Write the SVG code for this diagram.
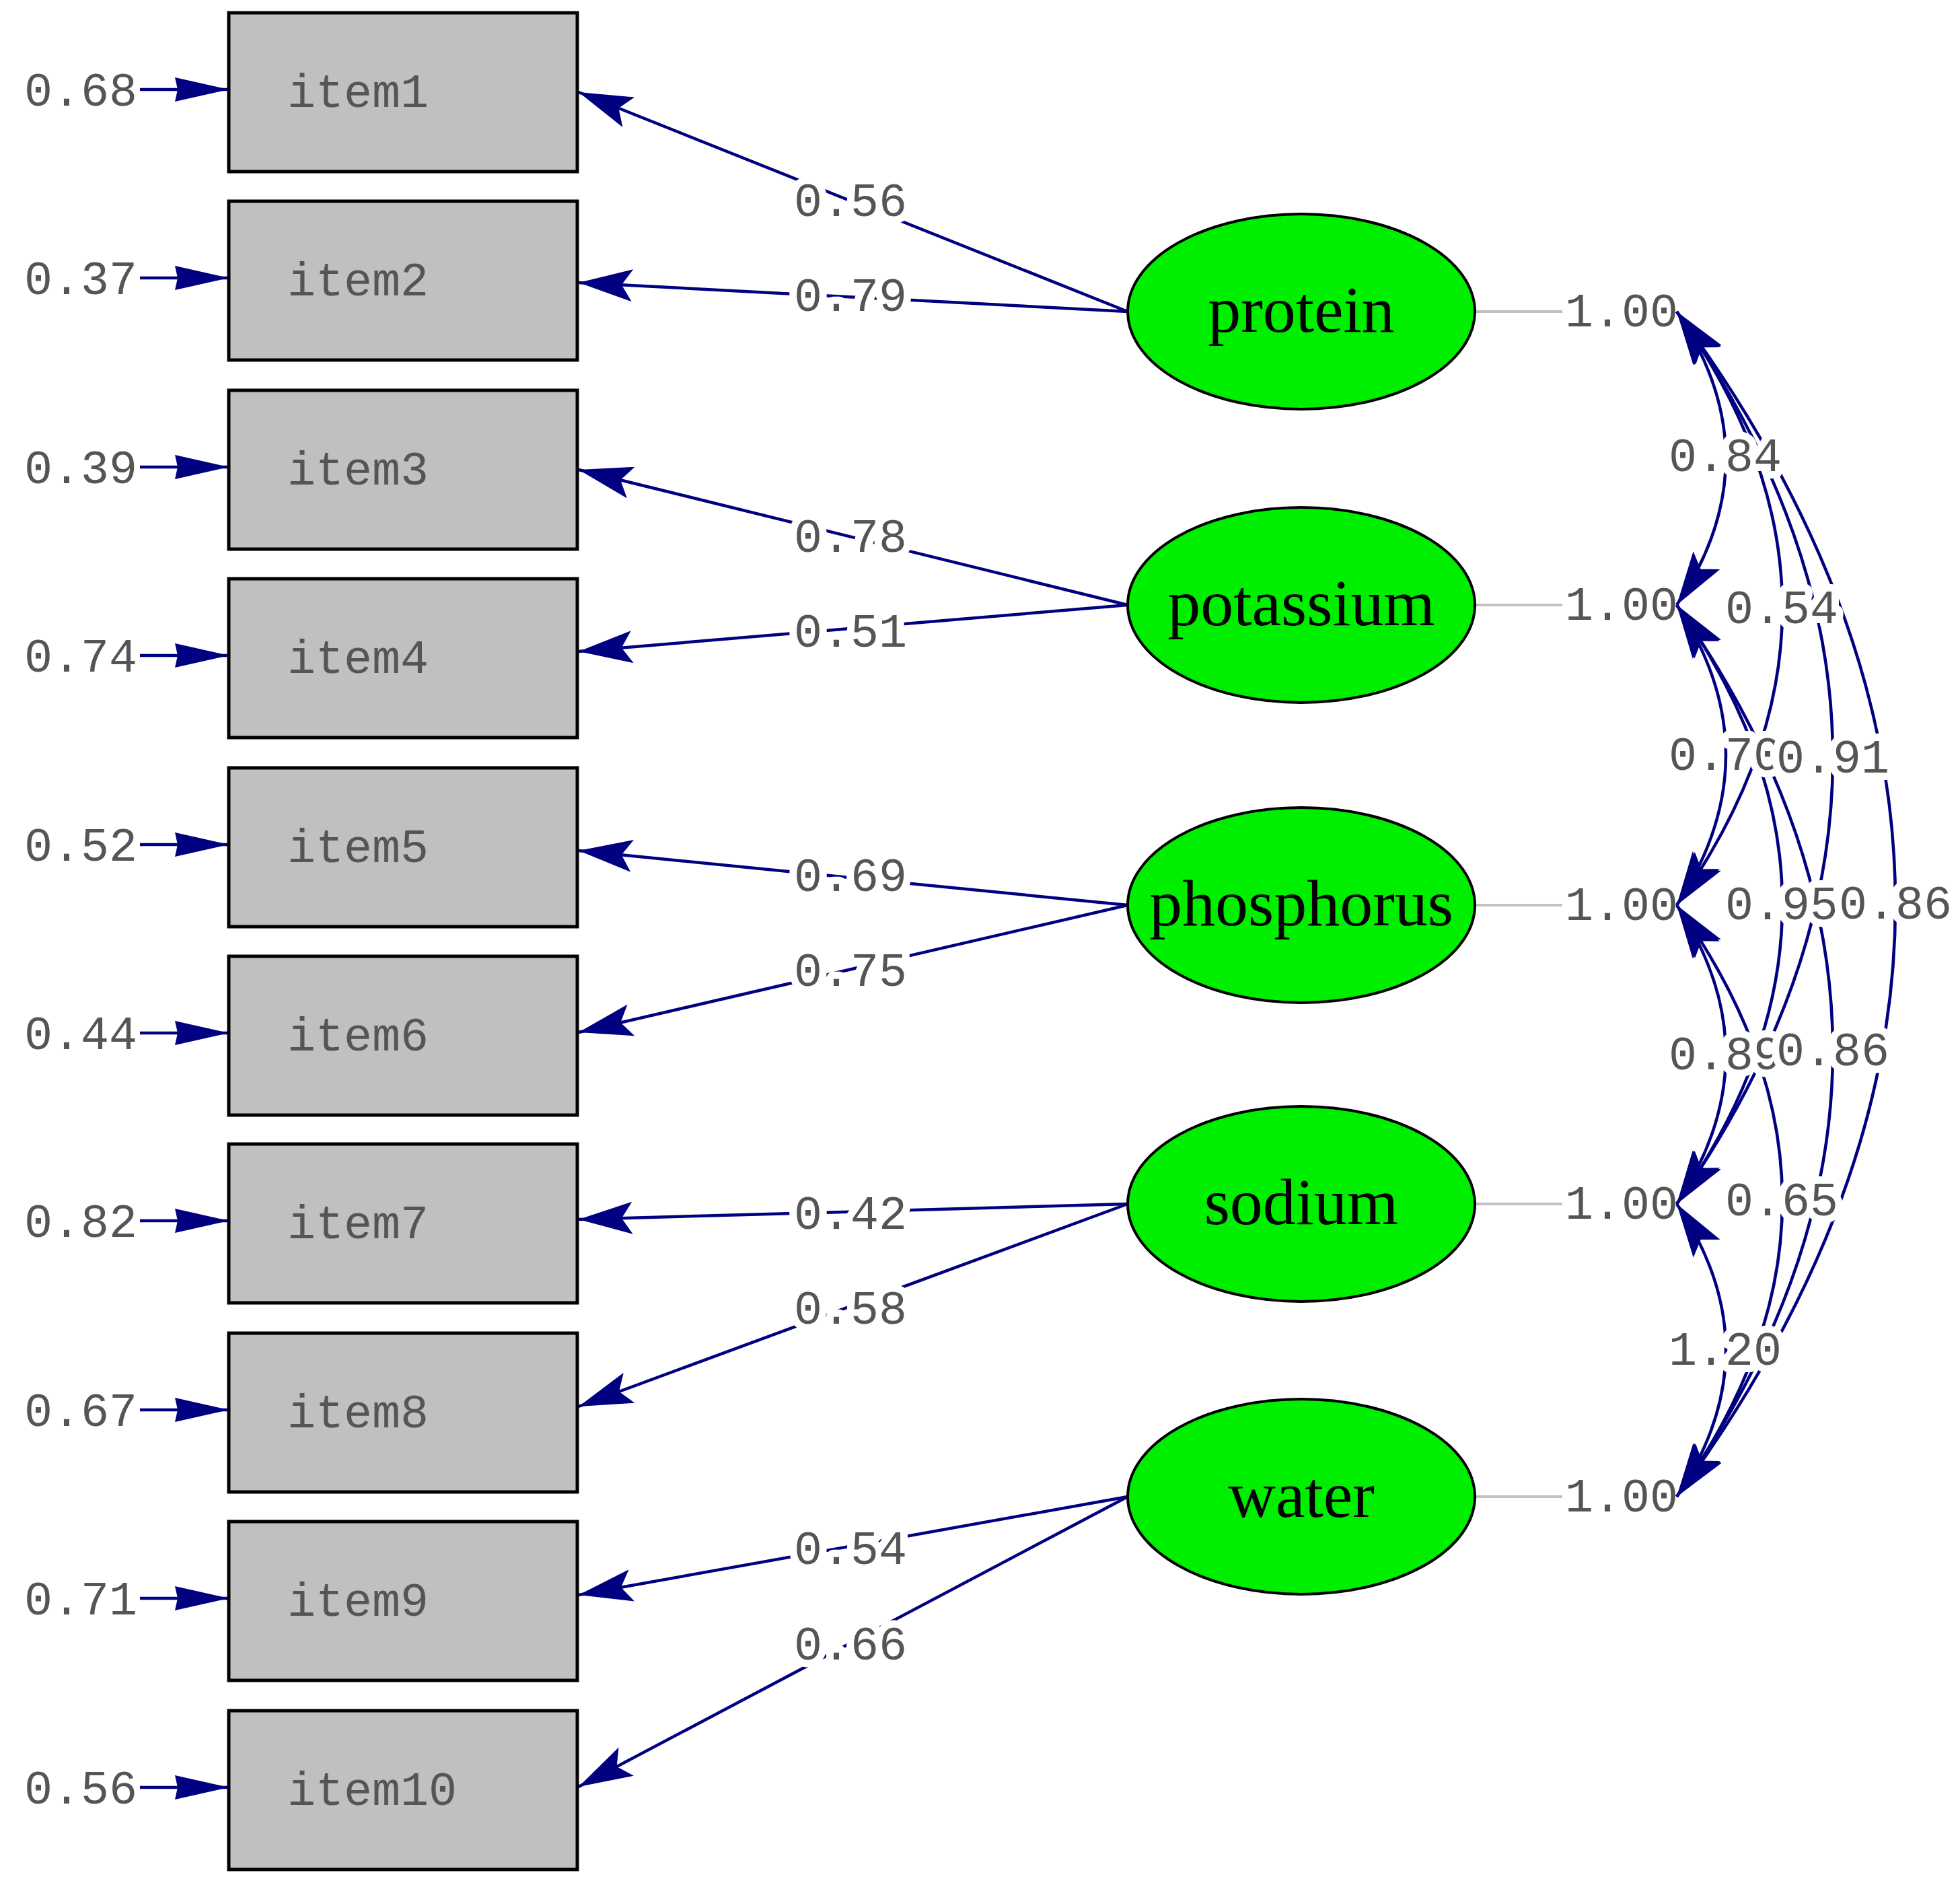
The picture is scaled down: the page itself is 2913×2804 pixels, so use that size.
<svg xmlns="http://www.w3.org/2000/svg" width="2913" height="2804" viewBox="0 0 2913 2804">
<style>
.box{fill:#c0c0c0;stroke:#000;stroke-width:5}
.ell{fill:#00ee00;stroke:#000;stroke-width:4}
.t{font-family:"Liberation Mono",monospace;font-size:70px;fill:#555}
.f{font-family:"Liberation Serif",serif;font-size:98px;fill:#000;text-anchor:middle}
.lab{paint-order:stroke;stroke:#fff;stroke-width:22px;stroke-linejoin:round;text-anchor:middle}
.ln{stroke:#000080;stroke-width:4.5;fill:none}
.gr{stroke:#c0c0c0;stroke-width:4}
</style>
<defs>
<marker id="ah" markerUnits="userSpaceOnUse" markerWidth="80" markerHeight="48" viewBox="0 0 80 48" refX="80" refY="24" orient="auto-start-reverse">
<path d="M80,24 L0,0 L16,24 L0,48 Z" fill="#000080"/>
</marker>
<marker id="ae" markerUnits="userSpaceOnUse" markerWidth="80" markerHeight="40" viewBox="0 0 80 40" refX="80" refY="20" orient="auto">
<path d="M80,20 L0,2 L4,20 L0,38 Z" fill="#000080"/>
</marker>
</defs>
<g id="connectors">
<line class="gr" x1="2192" y1="463" x2="2322" y2="463"/>
<line class="gr" x1="2192" y1="899" x2="2322" y2="899"/>
<line class="gr" x1="2192" y1="1345" x2="2322" y2="1345"/>
<line class="gr" x1="2192" y1="1789" x2="2322" y2="1789"/>
<line class="gr" x1="2192" y1="2224" x2="2322" y2="2224"/>
<g marker-end="url(#ae)">
<line class="ln" x1="208" y1="133" x2="340" y2="133"/>
<line class="ln" x1="208" y1="413" x2="340" y2="413"/>
<line class="ln" x1="208" y1="694" x2="340" y2="694"/>
<line class="ln" x1="208" y1="974" x2="340" y2="974"/>
<line class="ln" x1="208" y1="1255" x2="340" y2="1255"/>
<line class="ln" x1="208" y1="1535" x2="340" y2="1535"/>
<line class="ln" x1="208" y1="1814" x2="340" y2="1814"/>
<line class="ln" x1="208" y1="2095" x2="340" y2="2095"/>
<line class="ln" x1="208" y1="2375" x2="340" y2="2375"/>
<line class="ln" x1="208" y1="2656" x2="340" y2="2656"/>
</g>
<g marker-end="url(#ah)">
<line class="ln" x1="1676" y1="463" x2="860" y2="137"/>
<line class="ln" x1="1676" y1="463" x2="860" y2="420"/>
<line class="ln" x1="1676" y1="899" x2="860" y2="698"/>
<line class="ln" x1="1676" y1="899" x2="860" y2="968"/>
<line class="ln" x1="1676" y1="1345" x2="860" y2="1264"/>
<line class="ln" x1="1676" y1="1345" x2="860" y2="1534"/>
<line class="ln" x1="1676" y1="1789" x2="860" y2="1812"/>
<line class="ln" x1="1676" y1="1789" x2="860" y2="2090"/>
<line class="ln" x1="1676" y1="2224" x2="860" y2="2370"/>
<line class="ln" x1="1676" y1="2224" x2="860" y2="2655"/>
</g>
<g marker-start="url(#ah)" marker-end="url(#ah)">
<path class="ln" d="M2492,463 Q2638,681 2492,899"/>
<path class="ln" d="M2492,899 Q2638,1122 2492,1345"/>
<path class="ln" d="M2492,1345 Q2638,1567 2492,1789"/>
<path class="ln" d="M2492,1789 Q2638,2006 2492,2224"/>
<path class="ln" d="M2492,463 Q2806,904 2492,1345"/>
<path class="ln" d="M2492,899 Q2806,1344 2492,1789"/>
<path class="ln" d="M2492,1345 Q2806,1784 2492,2224"/>
<path class="ln" d="M2492,463 Q2956,1126 2492,1789"/>
<path class="ln" d="M2492,899 Q2956,1561 2492,2224"/>
<path class="ln" d="M2492,463 Q3142,1343 2492,2224"/>
</g>
<g class="t lab">
<text x="1264" y="321">0.56</text>
<text x="1264" y="462">0.79</text>
<text x="1264" y="820">0.78</text>
<text x="1264" y="961">0.51</text>
<text x="1264" y="1324">0.69</text>
<text x="1264" y="1465">0.75</text>
<text x="1264" y="1826">0.42</text>
<text x="1264" y="1967">0.58</text>
<text x="1264" y="2324">0.54</text>
<text x="1264" y="2466">0.66</text>
<text x="2564" y="700">0.84</text>
<text x="2564" y="1144">0.70</text>
<text x="2564" y="1589">0.89</text>
<text x="2564" y="2028">1.20</text>
<text x="2648" y="926">0.54</text>
<text x="2648" y="1366">0.95</text>
<text x="2648" y="1806">0.65</text>
<text x="2724" y="1148">0.91</text>
<text x="2724" y="1583">0.86</text>
<text x="2817" y="1365">0.86</text>
</g>
<g class="t" text-anchor="end">
<text x="204" y="157">0.68</text>
<text x="204" y="437">0.37</text>
<text x="204" y="718">0.39</text>
<text x="204" y="998">0.74</text>
<text x="204" y="1279">0.52</text>
<text x="204" y="1559">0.44</text>
<text x="204" y="1838">0.82</text>
<text x="204" y="2119">0.67</text>
<text x="204" y="2399">0.71</text>
<text x="204" y="2680">0.56</text>
</g>
<g class="t">
<text x="2326" y="485">1.00</text>
<text x="2326" y="921">1.00</text>
<text x="2326" y="1367">1.00</text>
<text x="2326" y="1811">1.00</text>
<text x="2326" y="2246">1.00</text>
</g>
</g>
<g id="item1"><rect class="box" x="340" y="19" width="518" height="236"/><text class="t" x="427" y="159">item1</text></g>
<g id="item2"><rect class="box" x="340" y="299" width="518" height="236"/><text class="t" x="427" y="439">item2</text></g>
<g id="item3"><rect class="box" x="340" y="580" width="518" height="236"/><text class="t" x="427" y="720">item3</text></g>
<g id="item4"><rect class="box" x="340" y="860" width="518" height="236"/><text class="t" x="427" y="1000">item4</text></g>
<g id="item5"><rect class="box" x="340" y="1141" width="518" height="236"/><text class="t" x="427" y="1281">item5</text></g>
<g id="item6"><rect class="box" x="340" y="1421" width="518" height="236"/><text class="t" x="427" y="1561">item6</text></g>
<g id="item7"><rect class="box" x="340" y="1700" width="518" height="236"/><text class="t" x="427" y="1840">item7</text></g>
<g id="item8"><rect class="box" x="340" y="1981" width="518" height="236"/><text class="t" x="427" y="2121">item8</text></g>
<g id="item9"><rect class="box" x="340" y="2261" width="518" height="236"/><text class="t" x="427" y="2401">item9</text></g>
<g id="item10"><rect class="box" x="340" y="2542" width="518" height="236"/><text class="t" x="427" y="2682">item10</text></g>
<g id="protein"><ellipse class="ell" cx="1934" cy="463" rx="258" ry="145"/><text class="f" x="1934" y="493">protein</text></g>
<g id="potassium"><ellipse class="ell" cx="1934" cy="899" rx="258" ry="145"/><text class="f" x="1934" y="929">potassium</text></g>
<g id="phosphorus"><ellipse class="ell" cx="1934" cy="1345" rx="258" ry="145"/><text class="f" x="1934" y="1375">phosphorus</text></g>
<g id="sodium"><ellipse class="ell" cx="1934" cy="1789" rx="258" ry="145"/><text class="f" x="1934" y="1819">sodium</text></g>
<g id="water"><ellipse class="ell" cx="1934" cy="2224" rx="258" ry="145"/><text class="f" x="1934" y="2254">water</text></g>
</svg>
